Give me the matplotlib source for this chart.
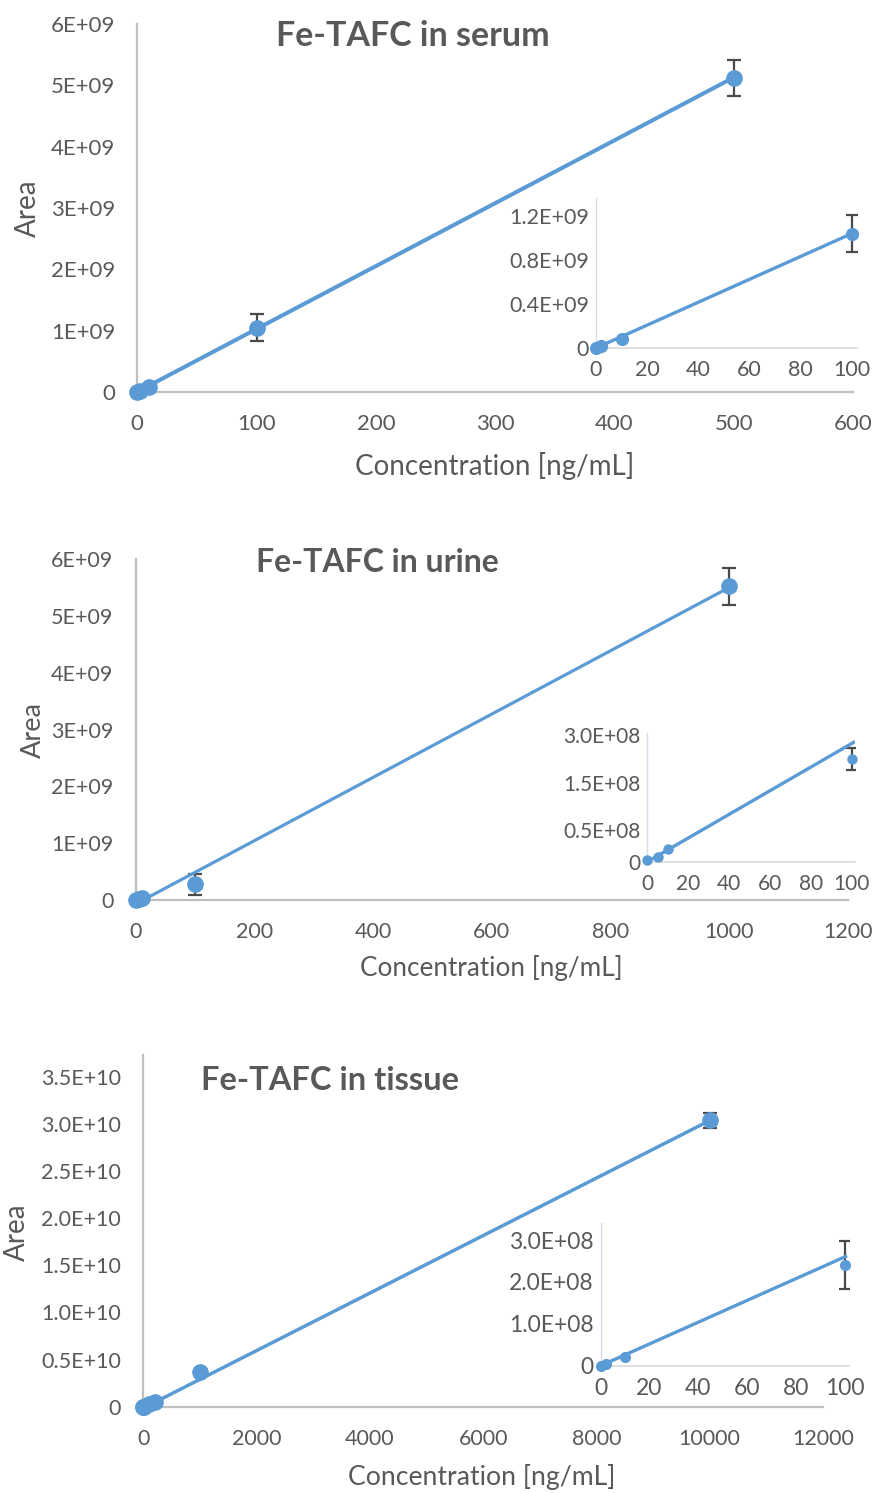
import numpy as np
import matplotlib
matplotlib.use('Agg')
import matplotlib.pyplot as plt

plt.rcParams['font.family'] = ['Lato', 'DejaVu Sans']

# ---- data ----
# serum
serum_conc = [0, 2, 10, 100, 500]
serum_area = [0, 0.015e9, 0.085e9, 1.05e9, 5.12e9]
serum_err = [0, 0, 0, 0.215e9, 0.29e9]
serum_fit = [1.025e7, 0.003e9]          # slope, intercept
serum_in_conc = [0, 2, 10, 100]
serum_in_area = [0, 0.015e9, 0.082e9, 1.04e9]
serum_in_err = [0, 0, 0, 0.167e9]
serum_in_fit = [1.04e7, 0]

# urine
urine_conc = [0, 5, 10, 100, 1000]
urine_area = [0, 0.012e9, 0.03e9, 0.28e9, 5.52e9]
urine_err = [0, 0, 0, 0.185e9, 0.33e9]
urine_fit = [5.57e6, -0.07e9]
urine_in_conc = [0, 5, 10, 100]
urine_in_area = [0.3e7, 1.2e7, 3.0e7, 2.43e8]
urine_in_err = [0, 0, 0, 0.27e8]
urine_in_fit = [2.8e6, 0]

# tissue
tissue_conc = [0, 2, 10, 100, 200, 1000, 10000]
tissue_area = [0, 0.002e9, 0.02e9, 0.24e9, 0.53e9, 3.65e9, 30.4e9]
tissue_err = [0, 0, 0, 0, 0, 0, 0.08e10]
tissue_fit = [3.05e6, -1.5e8]
tissue_in_conc = [0, 2, 10, 100]
tissue_in_area = [0, 0.4e7, 2.0e7, 2.40e8]
tissue_in_err = [0, 0, 0, 0.58e8]
tissue_in_fit = [2.6e6, 0]

# tick labels
serum_yticks = [0, 1e9, 2e9, 3e9, 4e9, 5e9, 6e9]
serum_ylabels = ['0', '1E+09', '2E+09', '3E+09', '4E+09', '5E+09', '6E+09']
serum_in_yticks = [0, 0.4e9, 0.8e9, 1.2e9]
serum_in_ylabels = ['0', '0.4E+09', '0.8E+09', '1.2E+09']
urine_yticks = serum_yticks
urine_ylabels = serum_ylabels
urine_in_yticks = [0, 0.75e8, 1.86e8, 3.0e8]
urine_in_ylabels = ['0', '0.5E+08', '1.5E+08', '3.0E+08']
tissue_yticks = [0, 0.5e10, 1.0e10, 1.5e10, 2.0e10, 2.5e10, 3.0e10, 3.5e10]
tissue_ylabels = ['0', '0.5E+10', '1.0E+10', '1.5E+10', '2.0E+10', '2.5E+10', '3.0E+10', '3.5E+10']
tissue_in_yticks = [0, 1e8, 2e8, 3e8]
tissue_in_ylabels = ['0', '1.0E+08', '2.0E+08', '3.0E+08']

BLUE = '#5B9BD5'
GRAY_TXT = '#595959'
ERR = '#4a4a4a'

W, H = 875, 1493
fig = plt.figure(figsize=(W / 100, H / 100), dpi=100)


def rect(left, right, top, bottom):
    return [left / W, (H - bottom) / H, (right - left) / W, (bottom - top) / H]


def draw(ax, conc, area, err, fit, xmax, ms, lw, inset=False, size=16):
    conc = np.array(conc, dtype=float)
    area = np.array(area, dtype=float)
    err = np.array(err, dtype=float)
    m = err > 0
    ax.errorbar(conc[m], area[m], yerr=err[m], fmt='none', ecolor=ERR,
                elinewidth=1.6, capsize=5 if not inset else 4.5, capthick=1.6, zorder=2)
    xs = np.array([0, xmax])
    ax.plot(xs, fit[0] * xs + fit[1], color=BLUE, lw=lw, zorder=3, solid_capstyle='butt')
    ax.plot(conc, area, 'o', color=BLUE, ms=ms, mec=BLUE, zorder=4, clip_on=False)
    for s in ['top', 'right']:
        ax.spines[s].set_visible(False)
    if inset:
        ax.spines['left'].set_color('#D6DCE5')
        ax.spines['bottom'].set_color('#D9D9D9')
        ax.spines['left'].set_linewidth(1.0)
        ax.spines['bottom'].set_linewidth(1.2)
        ax.tick_params(length=0, labelsize=size, colors=GRAY_TXT)
        ax.tick_params(axis='x', pad=9)
        ax.tick_params(axis='y', pad=5)
    else:
        ax.spines['left'].set_color('#BFBFBF')
        ax.spines['bottom'].set_color('#BFBFBF')
        ax.spines['left'].set_linewidth(1.6)
        ax.spines['bottom'].set_linewidth(1.6)
        ax.tick_params(length=0, labelsize=size, colors=GRAY_TXT)
        ax.tick_params(axis='x', pad=16)
        ax.tick_params(axis='y', pad=16)


def ftext(x, y, s, **kw):
    fig.text(x / W, 1 - y / H, s, ha='center', va='center', color=GRAY_TXT, **kw)


# ---- serum ----
ax1 = fig.add_axes(rect(137.3, 853, 24, 392))
draw(ax1, serum_conc, serum_area, serum_err, serum_fit, 500, 11, 2.9, size=16)
ax1.set_xlim(0, 600)
ax1.set_ylim(0, 6e9)
ax1.set_xticks(range(0, 601, 100))
ax1.set_yticks(serum_yticks)
ax1.set_yticklabels(serum_ylabels)

ax1i = fig.add_axes(rect(596, 857, 198, 348))
draw(ax1i, serum_in_conc, serum_in_area, serum_in_err, serum_in_fit, 100, 8.5, 2.4,
     inset=True, size=15.5)
ax1i.set_xlim(0, 102.1)
ax1i.set_ylim(0, 1.364e9)
ax1i.set_xticks(range(0, 101, 20))
ax1i.set_yticks(serum_in_yticks)
ax1i.set_yticklabels(serum_in_ylabels)

ftext(413, 36, 'Fe-TAFC in serum', fontsize=24.5, fontweight='bold')
ftext(495, 466, 'Concentration [ng/mL]', fontsize=20)
ftext(28, 208, 'Area', fontsize=20, rotation=90)

# ---- urine ----
ax2 = fig.add_axes(rect(135.7, 848, 559, 900))
draw(ax2, urine_conc, urine_area, urine_err, urine_fit, 1000, 11, 2.3, size=15.5)
ax2.set_xlim(0, 1200)
ax2.set_ylim(0, 6e9)
ax2.set_xticks(range(0, 1201, 200))
ax2.set_yticks(urine_yticks)
ax2.set_yticklabels(urine_ylabels)

ax2i = fig.add_axes(rect(647.3, 855, 733.3, 861.7))
draw(ax2i, urine_in_conc, urine_in_area, urine_in_err, urine_in_fit, 101.6, 6.5, 2.4,
     inset=True, size=15)
ax2i.set_xlim(0, 101.6)
ax2i.set_ylim(0, 3.04e8)
ax2i.set_xticks(range(0, 101, 20))
ax2i.set_yticks(urine_in_yticks)
ax2i.set_yticklabels(urine_in_ylabels)

ftext(377, 562, 'Fe-TAFC in urine', fontsize=23, fontweight='bold')
ftext(491, 968, 'Concentration [ng/mL]', fontsize=18.8)
ftext(33, 730, 'Area', fontsize=19.5, rotation=90)

# ---- tissue ----
ax3 = fig.add_axes(rect(143.3, 823, 1055, 1406.7))
draw(ax3, tissue_conc, tissue_area, tissue_err, tissue_fit, 10000, 11, 2.5, size=15.5)
ax3.set_xlim(0, 12000)
ax3.set_ylim(0, 3.73e10)
ax3.set_xticks(range(0, 12001, 2000))
ax3.set_yticks(tissue_yticks)
ax3.set_yticklabels(tissue_ylabels)

ax3i = fig.add_axes(rect(600.7, 849.3, 1223.3, 1365.7))
draw(ax3i, tissue_in_conc, tissue_in_area, tissue_in_err, tissue_in_fit, 100.9, 7, 2.4,
     inset=True, size=16.5)
ax3i.set_xlim(0, 101.8)
ax3i.set_ylim(0, 3.4e8)
ax3i.set_xticks(range(0, 101, 20))
ax3i.set_yticks(tissue_in_yticks)
ax3i.set_yticklabels(tissue_in_ylabels)

ftext(330, 1081, 'Fe-TAFC in tissue', fontsize=23.5, fontweight='bold')
ftext(482, 1477, 'Concentration [ng/mL]', fontsize=19.2)
ftext(17, 1232, 'Area', fontsize=20, rotation=90)

fig.savefig('out.png', dpi=100, facecolor='white')
